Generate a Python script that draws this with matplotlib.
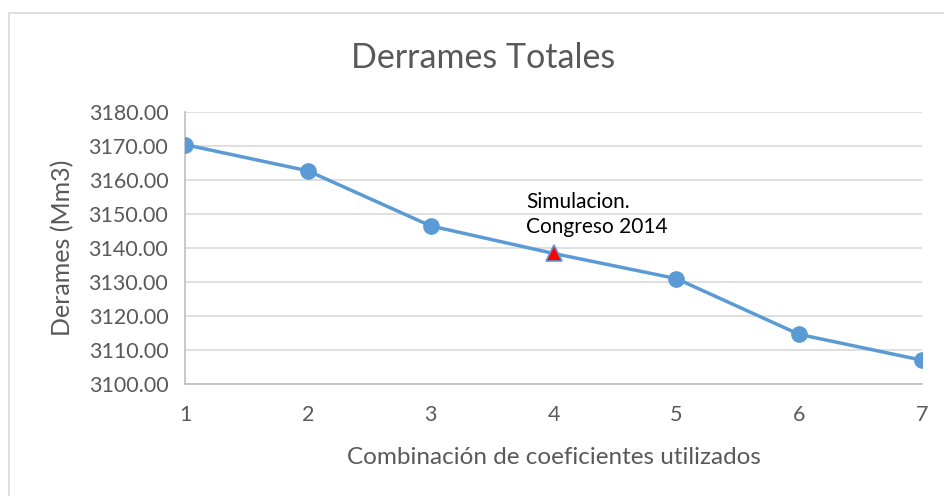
import matplotlib.pyplot as plt
from matplotlib.patches import Rectangle

combinacion = [1, 2, 3, 4, 5, 6, 7]
derrames = [3170.4, 3162.7, 3146.5, 3138.4, 3131.0, 3114.6, 3107.0]
idx_congreso = 3
anotacion = "Simulacion.\nCongreso 2014"

plt.rcParams['font.family'] = ['Lato', 'DejaVu Sans']

fig = plt.figure(figsize=(9.44, 4.96), dpi=100)
ax = fig.add_axes([185/944, 1 - 384/496, (922-185)/944, (384-112)/496])

# chart border (excel style)
fig.patches.append(Rectangle((9/944, -0.1), 1.2, 1 - 13/496 + 0.1, transform=fig.transFigure,
                             fill=False, edgecolor='#d9d9d9', linewidth=1.2))

blue = '#5b9bd5'
circulos = [i for i in range(len(combinacion)) if i != idx_congreso]
ax.plot(combinacion, derrames, color=blue, linewidth=2.5, marker='o', markersize=11,
        markerfacecolor=blue, markeredgecolor=blue, markevery=circulos, zorder=3)
ax.plot(combinacion[idx_congreso], derrames[idx_congreso], marker='^', markersize=12,
        markerfacecolor='red', markeredgecolor=blue, markeredgewidth=1.2, linestyle='none', zorder=4)
ax.text(3.78, 3149.8, anotacion, fontsize=15, color='black', va='center', ha='left',
        linespacing=1.35)

ax.set_xlim(1, 7)
ax.set_ylim(3100, 3180)
ax.set_yticks(range(3100, 3181, 10))
ax.set_yticklabels([f"{v:.2f}" for v in range(3100, 3181, 10)])
ax.set_xticks(combinacion)
ax.grid(axis='y', color='#d9d9d9', linewidth=1.2)
ax.set_axisbelow(True)
for s in ['top', 'right']:
    ax.spines[s].set_visible(False)
for s in ['left', 'bottom']:
    ax.spines[s].set_color('#bfbfbf')
    ax.spines[s].set_linewidth(1.2)
ax.tick_params(length=0, labelsize=15.5, labelcolor='#595959')
ax.tick_params(axis='x', pad=15)
ax.tick_params(axis='y', pad=12)

fig.text(483/944, 1 - 58/496, "Derrames Totales", fontsize=24.5, color='#595959',
         ha='center', va='center')
ax.set_xlabel("Combinación de coeficientes utilizados", fontsize=17.5, color='#595959', labelpad=16)
ax.set_ylabel("Derames (Mm3)", fontsize=18, color='#595959', labelpad=10)

fig.savefig("out.png", dpi=100)
